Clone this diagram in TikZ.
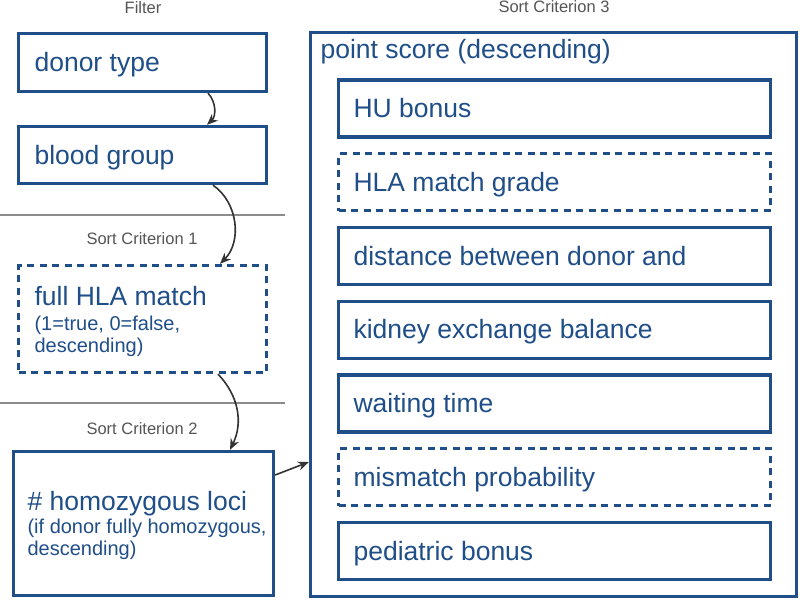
\documentclass[tikz,border=0pt]{standalone}
\usepackage{fontspec}
\setmainfont{Liberation Sans}
\usetikzlibrary{arrows.meta}
\definecolor{boxblue}{RGB}{31,78,136}
\definecolor{headgray}{RGB}{85,85,85}
\definecolor{arrowgray}{RGB}{51,51,51}
\definecolor{rulegray}{RGB}{140,140,140}
\newcommand{\bigline}{\fontsize{26.5}{30}\selectfont}

\begin{document}
\begin{tikzpicture}[x=1pt,y=-1pt,
                    crit/.style={draw=boxblue,line width=3.3pt,minimum height=57pt},
                    critdash/.style={crit,dash pattern=on 7pt off 5.5pt},
                    lbl/.style={anchor=west,text=boxblue,inner sep=0pt,
                                font=\fontsize{26.5}{30}\selectfont,text height=24pt,text depth=5.6pt},
                    lblmulti/.style={anchor=west,text=boxblue,inner sep=0pt,text width=262pt,
                                align=flush left,font=\fontsize{20}{22}\selectfont},
                    head/.style={text=headgray,inner sep=0pt,font=\fontsize{16.5}{19}\selectfont},
                    rule/.style={draw=rulegray,line width=1.2pt},
                    goto/.style={->,line width=1.6pt,draw=arrowgray},
                    >={Stealth[length=11pt,width=9pt]}]
\fill[white] (0,0) rectangle (800,602);
\useasboundingbox (0,0) rectangle (800,602);

% left column
\node[head] (filter) at (143,7.5) {Filter};
\node[crit,minimum width=248pt,minimum height=58pt] (donor) at (142.5,62.5) {};
\node[lbl] (donor-t) at ([xshift=17.5pt]donor.west) {donor type};
\node[crit,minimum width=248pt] (blood) at (142.5,155) {};
\node[lbl] (blood-t) at ([xshift=17.5pt]blood.west) {blood group};

\draw[rule] (0,215) -- (285,215);
\node[head] (crit1) at (142,238.5) {Sort Criterion 1};
\node[critdash,minimum width=248pt,minimum height=107pt] (fullhla) at (142.5,319) {};
\node[lblmulti] (fullhla-t) at ([xshift=17.5pt,yshift=-2pt]fullhla.west)
  {{\bigline full HLA match}\\[3pt](1=true, 0=false,\\descending)};

\draw[rule] (0,403) -- (285,403);
\node[head] (crit2) at (142,428.5) {Sort Criterion 2};
\node[crit,minimum width=260pt,minimum height=144pt] (homoz) at (143.5,523.5) {};
\node[lblmulti] (homoz-t) at ([xshift=15.5pt,yshift=-1.5pt]homoz.west)
  {{\bigline\# homozygous loci}\\[1pt](if donor fully homozygous,\\descending)};

% right column
\node[head] (crit3) at (554,7) {Sort Criterion 3};
\node[crit,minimum width=486pt,minimum height=564pt] (score) at (553.5,314.5) {};
\node[lbl] (score-t) at ([xshift=11.5pt,yshift=-18.5pt]score.north west) {point score (descending)};

\node[crit,minimum width=432pt] (hu) at (554.5,108.5) {};
\node[lbl] (hu-t) at ([xshift=16.5pt]hu.west) {HU bonus};
\node[critdash,minimum width=432pt] (hla) at (554.5,182.25) {};
\node[lbl] (hla-t) at ([xshift=16.5pt]hla.west) {HLA match grade};
\node[crit,minimum width=432pt] (dist) at (554.5,256) {};
\node[lbl] (dist-t) at ([xshift=16.5pt]dist.west) {distance between donor and};
\node[crit,minimum width=432pt] (kidney) at (554.5,329.75) {};
\node[lbl] (kidney-t) at ([xshift=16.5pt]kidney.west) {kidney exchange balance};
\node[crit,minimum width=432pt] (wait) at (554.5,403.5) {};
\node[lbl] (wait-t) at ([xshift=16.5pt]wait.west) {waiting time};
\node[critdash,minimum width=432pt] (mismatch) at (554.5,477.25) {};
\node[lbl] (mismatch-t) at ([xshift=16.5pt]mismatch.west) {mismatch probability};
\node[crit,minimum width=432pt] (pediatric) at (554.5,551) {};
\node[lbl] (pediatric-t) at ([xshift=16.5pt]pediatric.west) {pediatric bonus};

% arrows
\draw[goto] ([xshift=65.5pt]donor.south) to[bend left=45] ([xshift=64.5pt]blood.north);
\draw[goto] ([xshift=70.5pt]blood.south) to[bend left=50] ([xshift=77.5pt]fullhla.north);
\draw[goto] ([xshift=75.5pt]fullhla.south) to[bend left=35] ([xshift=86.5pt]homoz.north);
\draw[goto] ([yshift=48.5pt]homoz.east) -- ([yshift=-147.5pt]score.west);
\end{tikzpicture}
\end{document}
